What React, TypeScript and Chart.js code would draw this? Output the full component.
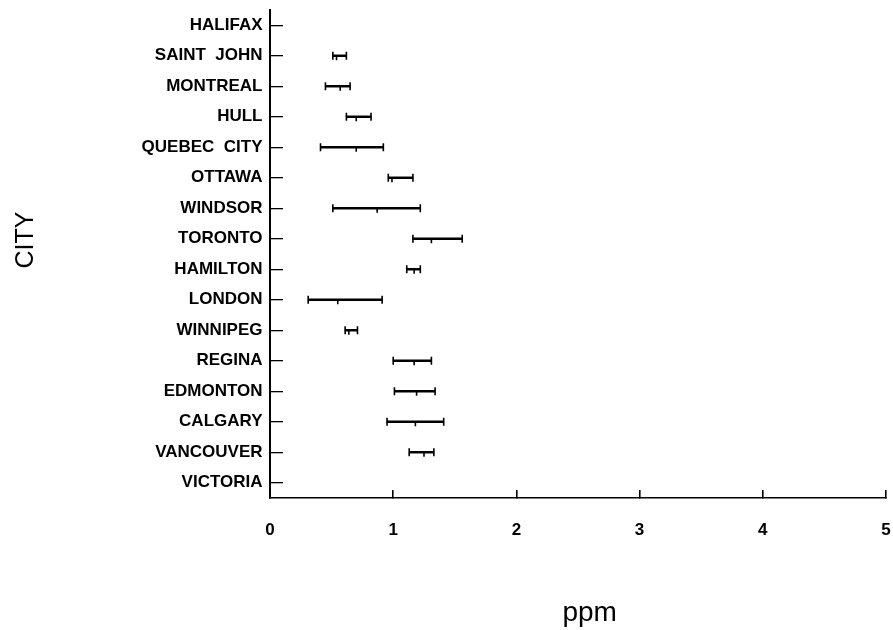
import React, { useEffect, useRef } from "react";
import { Chart, registerables } from "chart.js";

Chart.register(...registerables);

// Cities, top to bottom
const CITIES = [
  "HALIFAX",
  "SAINT  JOHN",
  "MONTREAL",
  "HULL",
  "QUEBEC  CITY",
  "OTTAWA",
  "WINDSOR",
  "TORONTO",
  "HAMILTON",
  "LONDON",
  "WINNIPEG",
  "REGINA",
  "EDMONTON",
  "CALGARY",
  "VANCOUVER",
  "VICTORIA",
];

// Range (low / high) and mean concentration, ppm
const PPM_LOW = [null, 0.51, 0.45, 0.62, 0.41, 0.96, 0.51, 1.16, 1.11, 0.31, 0.61, 1.0, 1.01, 0.95, 1.13, null];
const PPM_MEAN = [null, 0.54, 0.57, 0.7, 0.7, 0.99, 0.87, 1.31, 1.17, 0.55, 0.64, 1.17, 1.19, 1.18, 1.25, null];
const PPM_HIGH = [null, 0.62, 0.65, 0.82, 0.92, 1.16, 1.22, 1.56, 1.22, 0.91, 0.71, 1.31, 1.34, 1.41, 1.33, null];

const X_TICKS = [0, 1, 2, 3, 4, 5];

const FONT = "'Liberation Sans', Arial, sans-serif";

// Draws end caps and the mean mark on each range bar
const errorBarPlugin = {
  id: "errorBarCaps",
  afterDatasetsDraw(chart: any) {
    const { ctx } = chart;
    const meta = chart.getDatasetMeta(0);
    const xScale = chart.scales.x;
    ctx.save();
    ctx.strokeStyle = "#000";
    ctx.lineWidth = 1.6;
    meta.data.forEach((el: any, i: number) => {
      if (PPM_LOW[i] == null || PPM_HIGH[i] == null) return;
      const y = el.y;
      const xs = [xScale.getPixelForValue(PPM_LOW[i]), xScale.getPixelForValue(PPM_HIGH[i])];
      ctx.beginPath();
      xs.forEach((x) => {
        ctx.moveTo(x, y - 4);
        ctx.lineTo(x, y + 4);
      });
      if (PPM_MEAN[i] != null) {
        const mx = xScale.getPixelForValue(PPM_MEAN[i]);
        ctx.moveTo(mx, y);
        ctx.lineTo(mx, y + 4.5);
      }
      ctx.stroke();
    });
    ctx.restore();
  },
};

export default function App() {
  const canvasRef = useRef<HTMLCanvasElement | null>(null);

  useEffect(() => {
    if (!canvasRef.current) return;
    const chart = new Chart(canvasRef.current, {
      type: "bar",
      data: {
        labels: CITIES,
        datasets: [
          {
            data: CITIES.map((_, i) =>
              PPM_LOW[i] == null || PPM_HIGH[i] == null ? null : [PPM_LOW[i], PPM_HIGH[i]]
            ) as any,
            backgroundColor: "#000",
            borderWidth: 0,
            barThickness: 1.8,
          },
        ],
      },
      options: {
        indexAxis: "y",
        animation: false,
        responsive: false,
        devicePixelRatio: 1,
        layout: { padding: { top: 10, right: 7, bottom: 0, left: 0 } },
        plugins: {
          legend: { display: false },
          tooltip: { enabled: false },
        },
        scales: {
          x: {
            type: "linear",
            min: 0,
            max: 5,
            afterBuildTicks: (scale: any) => {
              scale.ticks = X_TICKS.map((v) => ({ value: v }));
            },
            afterFit: (scale: any) => {
              scale.height = 132;
              scale.paddingLeft = 0;
              scale.paddingRight = 0;
            },
            border: { display: true, color: "#000", width: 1.6 },
            grid: {
              drawOnChartArea: false,
              drawTicks: true,
              tickLength: -8,
              color: "#000",
              lineWidth: 1.6,
            },
            ticks: {
              padding: 30,
              color: "#000",
              font: { family: FONT, size: 17, weight: "bold" },
              callback: (v: any) => String(v),
            },
            title: {
              display: true,
              text: "   ppm",
              color: "#000",
              font: { family: FONT, size: 28 },
              padding: { top: 0, bottom: 0 },
            },
          },
          y: {
            type: "category",
            offset: true,
            afterFit: (scale: any) => {
              scale.width = 270;
              scale.paddingTop = 0;
              scale.paddingBottom = 0;
            },
            border: { display: true, color: "#000", width: 2 },
            grid: {
              offset: false,
              drawOnChartArea: false,
              drawTicks: true,
              tickLength: -13,
              color: "#000",
              lineWidth: 1.3,
            },
            ticks: {
              autoSkip: false,
              padding: 20.5,
              color: "#000",
              font: { family: FONT, size: 17, weight: "bold" },
            },
            title: {
              display: true,
              text: "    CITY",
              color: "#000",
              font: { family: FONT, size: 25 },
              padding: { top: 11, bottom: 0 },
            },
          },
        },
      },
      plugins: [errorBarPlugin],
    });
    return () => chart.destroy();
  }, []);

  return (
    <div style={{ position: "fixed", left: 0, top: 0, width: 893, height: 630, background: "#fff" }}>
      <canvas ref={canvasRef} width={893} height={630} style={{ display: "block" }} />
    </div>
  );
}
